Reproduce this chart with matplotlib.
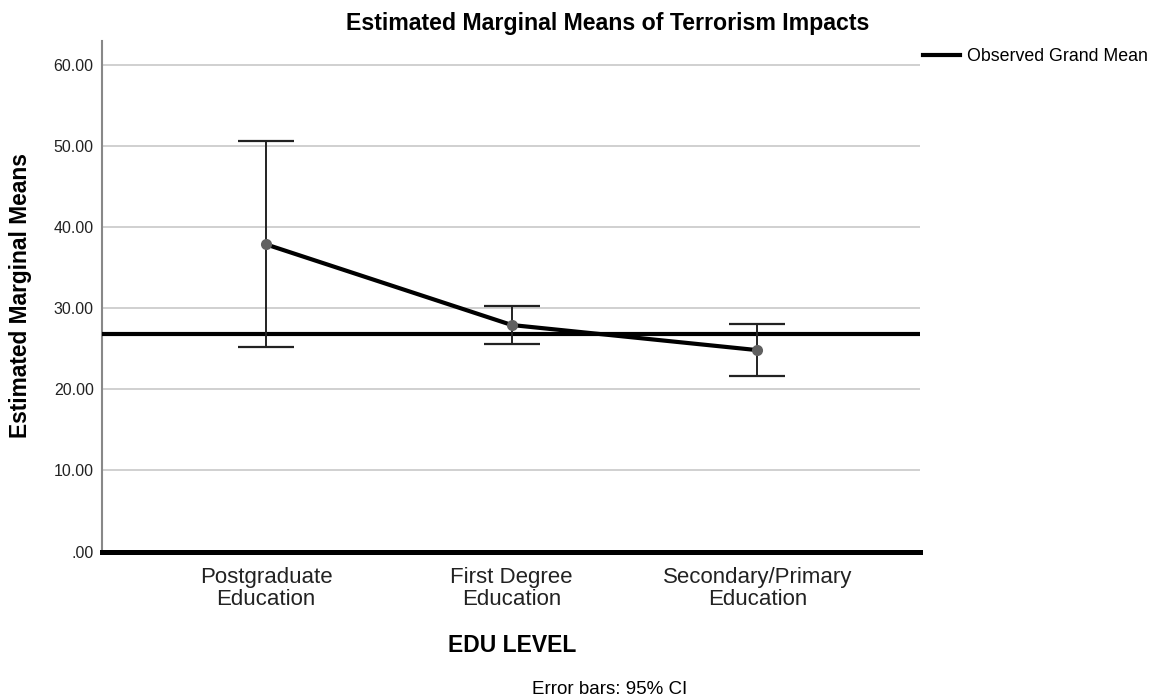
import matplotlib
matplotlib.use("Agg")
import matplotlib.pyplot as plt
from matplotlib.lines import Line2D

plt.rcParams['font.family'] = ['Liberation Sans', 'DejaVu Sans']

categories = ["Postgraduate\nEducation", "First Degree\nEducation", "Secondary/Primary\nEducation"]
means = [37.9, 27.95, 24.85]
ci_low = [25.2, 25.6, 21.7]
ci_high = [50.7, 30.35, 28.05]
grand_mean = 26.9
yticks = [0, 10, 20, 30, 40, 50, 60]
ytick_labels = [".00", "10.00", "20.00", "30.00", "40.00", "50.00", "60.00"]

fig = plt.figure(figsize=(11.58, 6.99), dpi=100)
ax = fig.add_axes([102/1158, 1-551.5/699, (920-102)/1158, (551.5-41)/699])

x = list(range(len(categories)))
ax.set_xlim(-0.668, 2.662)
ax.set_ylim(0, 63.0)

for yv in yticks[1:]:
    ax.axhline(yv, color='#c8c8c8', lw=1.2, zorder=1)

ax.axhline(grand_mean, color='black', lw=3.0, zorder=3)

yerr = [[m - l for m, l in zip(means, ci_low)], [h - m for m, h in zip(means, ci_high)]]
ax.errorbar(x, means, yerr=yerr, fmt='none', ecolor='#222222', elinewidth=1.4,
            capsize=20, capthick=1.6, zorder=4)
ax.plot(x, means, color='black', lw=3.0, zorder=5, solid_capstyle='butt')
ax.plot(x, means, 'o', color='#606060', ms=8, zorder=6, mec='none')

ax.axhline(0, color='black', lw=3.6, zorder=7, clip_on=False)

ax.set_yticks(yticks)
ax.set_yticklabels(ytick_labels, fontsize=11.5, color='#222222')
ax.set_xticks(x)
ax.set_xticklabels(categories, fontsize=16, color='#222222', linespacing=1.05)
ax.tick_params(axis='both', length=0)
ax.tick_params(axis='y', pad=6)
ax.tick_params(axis='x', pad=11)

for s in ['top', 'right', 'bottom']:
    ax.spines[s].set_visible(False)
ax.spines['left'].set_color('#888888')
ax.spines['left'].set_linewidth(1.5)

fig.text(608/1158, 1-30/699, "Estimated Marginal Means of Terrorism Impacts",
         fontsize=16.7, fontweight='bold', ha='center', va='baseline')
fig.text(21/1158, 1-296/699, "Estimated Marginal Means", fontsize=16.4,
         fontweight='bold', rotation=90, ha='center', va='center')
fig.text(512/1158, 1-645/699, "EDU LEVEL", fontsize=16.5, fontweight='bold',
         ha='center', va='center')
fig.text(610/1158, 1-689/699, "Error bars: 95% CI", fontsize=13.5, ha='center', va='center')

leg_handle = Line2D([], [], color='black', lw=3.0)
fig.legend([leg_handle], ["Observed Grand Mean"], loc='upper left',
           bbox_to_anchor=(923/1158, 1-48/699), frameon=False, fontsize=12.8,
           handlelength=2.08, handletextpad=0.4, borderaxespad=0, borderpad=0)

fig.savefig("out.png", dpi=100)
